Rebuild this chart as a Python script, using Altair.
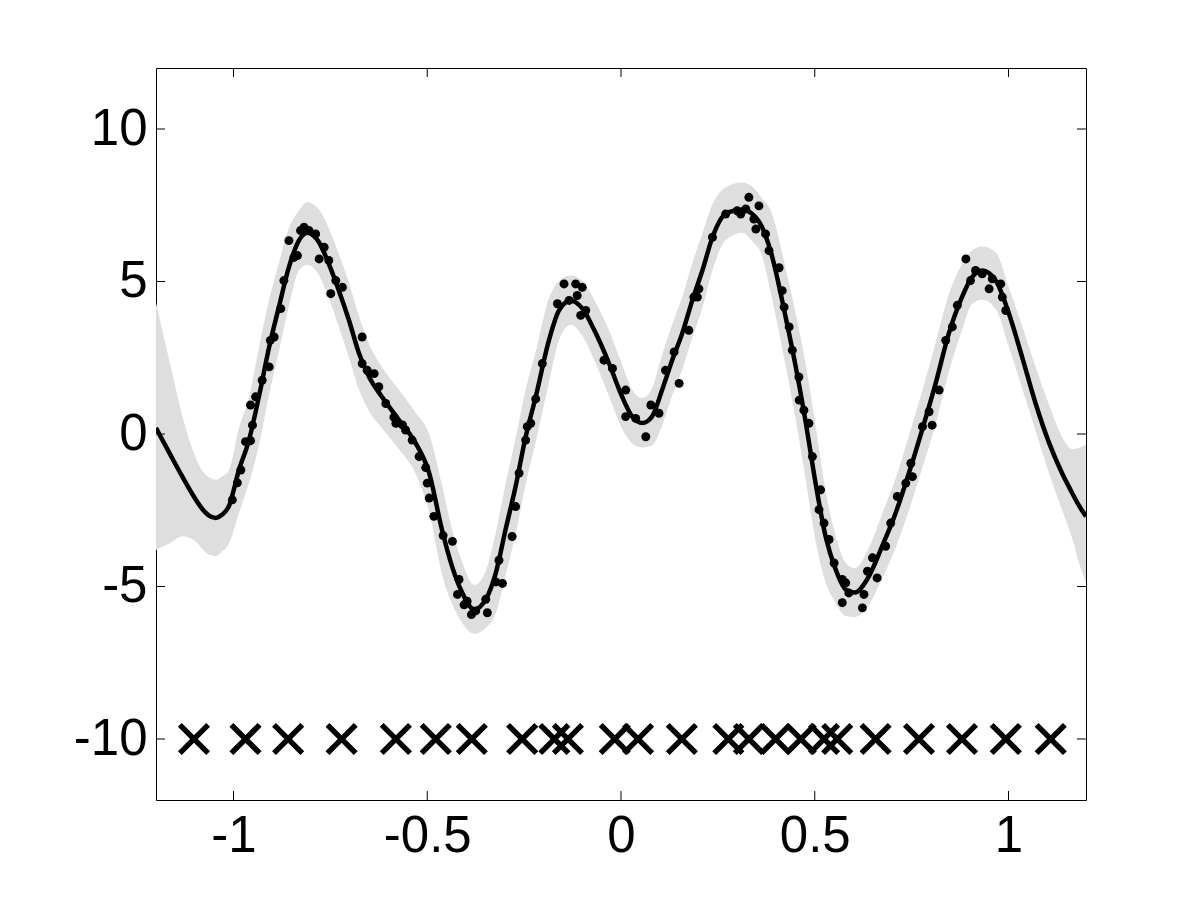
import altair as alt
import pandas as pd

# ---- GP predictive mean and band ----
grid_x = [-1.2, -1.16, -1.132, -1.10, -1.081, -1.065, -1.046, -1.03, -1.012, -0.986, -0.96, -0.934,
          -0.908, -0.883, -0.857, -0.831, -0.81, -0.779, -0.754, -0.728, -0.702, -0.676,
          -0.65, -0.617, -0.573, -0.53, -0.495, -0.462, -0.436, -0.41, -0.379, -0.349,
          -0.323, -0.298, -0.272, -0.246, -0.22, -0.186, -0.16, -0.13, -0.10, -0.065,
          -0.031, 0.003, 0.029, 0.055, 0.08, 0.106, 0.132, 0.158, 0.184, 0.21,
          0.236, 0.27, 0.312, 0.34, 0.364, 0.386, 0.425, 0.451, 0.477, 0.502,
          0.528, 0.554, 0.58, 0.603, 0.64, 0.674, 0.709, 0.743, 0.777, 0.812,
          0.846, 0.88, 0.906, 0.932, 0.967, 1.001, 1.035, 1.07, 1.105, 1.138,
          1.165, 1.182, 1.2]
mean_y = [0.2, -0.75, -1.4, -2.1, -2.45, -2.66, -2.75, -2.65, -2.37, -1.18, -0.2, 1.25,
          2.85, 4.16, 5.47, 6.35, 6.6, 6.28, 5.58, 4.7, 3.73, 2.64,
          1.87, 1.22, 0.46, -0.3, -1.28, -3.14, -4.34, -5.2, -5.75, -5.42,
          -4.55, -3.14, -1.72, -0.09, 1.22, 3.07, 4.05, 4.38, 4.12, 3.3,
          2.32, 1.22, 0.57, 0.36, 0.57, 1.44, 2.42, 3.3, 4.38, 5.36,
          6.45, 7.22, 7.35, 7.2, 6.78, 6.0, 3.83, 2.2, 0.36, -1.6,
          -3.36, -4.44, -5.1, -5.2, -4.66, -3.68, -2.58, -1.28, 0.13, 1.66,
          3.3, 4.49, 5.14, 5.36, 5.03, 3.95, 2.53, 1.0, -0.3, -1.28,
          -1.95, -2.35, -2.7]
band_lo = [-3.8, -3.55, -3.35, -3.5, -3.75, -3.95, -4.0, -3.85, -3.6, -2.6, -1.6, -0.35,
           1.3, 2.7, 4.2, 5.37, 5.55, 5.2, 4.45, 3.5, 2.5, 1.45,
           0.75, 0.2, -0.5, -1.3, -2.55, -4.6, -5.56, -6.2, -6.55, -6.36,
           -5.88, -4.64, -3.29, -1.64, -0.26, 1.69, 3.08, 3.58, 3.22, 2.3,
           1.24, 0.17, -0.31, -0.44, -0.37, 0.28, 1.26, 2.11, 3.16, 4.14,
           5.37, 6.35, 6.6, 6.3, 5.84, 4.66, 2.23, 0.46, -1.54, -3.5,
           -4.86, -5.54, -5.97, -6.0, -5.6, -4.74, -3.72, -2.5, -1.14, 0.33,
           2.03, 3.41, 4.26, 4.4, 4.1, 2.85, 1.5, 0.1, -1.3, -2.48,
           -3.45, -4.22, -4.87]
band_hi = [4.3, 2.1, 0.6, -0.7, -1.2, -1.4, -1.5, -1.4, -1.2, 0.2, 1.2, 2.85,
           4.4, 5.6, 6.75, 7.33, 7.6, 7.35, 6.75, 5.9, 4.95, 3.85,
           2.95, 2.2, 1.45, 0.7, 0.0, -1.68, -3.12, -4.2, -4.95, -4.48,
           -3.22, -1.64, -0.15, 1.46, 2.7, 4.45, 5.02, 5.2, 5.02, 4.3,
           3.4, 2.27, 1.45, 1.18, 1.51, 2.6, 3.58, 4.49, 5.6, 6.58,
           7.53, 8.09, 8.25, 8.1, 7.72, 7.34, 5.43, 3.94, 2.26, 0.3,
           -1.86, -3.34, -4.23, -4.4, -3.72, -2.62, -1.44, -0.06, 1.4, 2.99,
           4.57, 5.57, 6.02, 6.15, 5.96, 4.8, 3.55, 2.2, 0.95, -0.09,
           -0.5, -0.45, -0.35]

# ---- noisy observations ----
obs_x = [-1.003, -0.99, -0.981, -0.969, -0.956, -0.951, -0.956, -0.943, -0.926, -0.908,
         -0.905, -0.895, -0.878, -0.87, -0.857, -0.844, -0.835, -0.827, -0.818, -0.805,
         -0.788, -0.779, -0.766, -0.754, -0.749, -0.736, -0.719, -0.668, -0.668, -0.655,
         -0.637, -0.625, -0.607, -0.586, -0.581, -0.564, -0.556, -0.539, -0.521, -0.504,
         -0.5, -0.495, -0.483, -0.459, -0.435, -0.418, -0.422, -0.405, -0.397, -0.386,
         -0.375, -0.349, -0.345, -0.323, -0.306, -0.315, -0.281, -0.272, -0.263, -0.246,
         -0.242, -0.233, -0.22, -0.203, -0.164, -0.147, -0.134, -0.117, -0.113, -0.1,
         -0.104, -0.091, -0.044, -0.022, 0.012, 0.012, 0.038, 0.064, 0.077, 0.098,
         0.115, 0.137, 0.15, 0.175, 0.188, 0.197, 0.201, 0.236, 0.27, 0.3,
         0.309, 0.33, 0.322, 0.356, 0.343, 0.348, 0.373, 0.382, 0.408, 0.416,
         0.421, 0.434, 0.442, 0.459, 0.46, 0.472, 0.485, 0.494, 0.515, 0.511,
         0.524, 0.537, 0.55, 0.571, 0.571, 0.588, 0.58, 0.627, 0.623, 0.636,
         0.649, 0.661, 0.683, 0.696, 0.713, 0.735, 0.748, 0.752, 0.778, 0.795,
         0.803, 0.821, 0.838, 0.855, 0.868, 0.89, 0.902, 0.915, 0.932, 0.95,
         0.958, 0.98, 0.984, 0.993]
obs_y = [-2.16, -1.6, -1.18, -0.25, -0.22, 0.29, 0.95, 1.22, 1.76, 2.2,
         3.07, 3.18, 4.11, 5.03, 6.34, 5.79, 5.85, 6.67, 6.78, 6.67,
         6.56, 5.74, 6.12, 5.69, 4.6, 5.03, 4.81, 3.18, 2.31, 2.09,
         1.98, 1.55, 1.0, 0.55, 0.35, 0.3, 0.13, -0.2, -0.74, -1.1,
         -1.61, -2.1, -2.7, -3.33, -3.52, -4.77, -5.26, -5.6, -5.48, -5.92,
         -5.8, -5.42, -5.86, -4.85, -4.9, -4.14, -3.36, -2.38, -1.28, -0.2,
         0.24, 0.35, 1.15, 2.31, 4.27, 4.92, 4.38, 4.92, 4.54, 4.81,
         3.89, 4.05, 2.42, 2.15, 1.44, 0.57, 0.51, -0.09, 0.95, 0.68,
         2.09, 2.69, 1.66, 3.4, 4.49, 4.49, 4.76, 6.45, 7.21, 7.32,
         7.21, 7.76, 7.38, 7.48, 7.05, 6.72, 6.56, 6.01, 5.45, 4.7,
         4.16, 3.51, 2.75, 1.87, 1.11, 0.78, 0.35, -0.74, -1.83, -2.48,
         -2.92, -3.46, -4.23, -4.77, -5.53, -5.21, -4.88, -5.26, -5.7, -4.5,
         -4.06, -4.72, -3.68, -2.92, -2.05, -1.61, -0.96, -1.4, 0.24, 0.73,
         0.29, 1.44, 3.07, 3.51, 4.22, 5.74, 5.03, 5.36, 5.25, 4.76,
         5.09, 4.92, 4.49, 4.05]

# ---- inducing point locations (crosses at y = -10) ----
ind_x = [-1.102, -0.969, -0.859, -0.721, -0.581, -0.478, -0.385, -0.255, -0.172, -0.137,
         -0.016, 0.044, 0.157, 0.277, 0.330, 0.399, 0.464, 0.524, 0.558, 0.657,
         0.769, 0.880, 0.993, 1.109]
ind_y = [-10] * len(ind_x)

x_ticks = [-1, -0.5, 0, 0.5, 1]
y_ticks = [-10, -5, 0, 5, 10]

W, H = 930, 732
TICK = 9

xs = alt.Scale(domain=[-1.2, 1.2], nice=False, zero=False)
ys = alt.Scale(domain=[-12, 12], nice=False, zero=False)

font = "Liberation Sans"
x_axis = alt.Axis(values=x_ticks, labelExpr="toString(datum.value)", ticks=False, domain=False,
                  grid=False, title=None, labelFont=font, labelFontSize=51, labelColor="black",
                  labelPadding=11, labelFlush=False)
y_axis = alt.Axis(values=y_ticks, labelExpr="toString(datum.value)", ticks=False, domain=False,
                  grid=False, title=None, labelFont=font, labelFontSize=51, labelColor="black",
                  labelPadding=9)

band_df = pd.DataFrame({"x": grid_x, "lo": band_lo, "hi": band_hi, "m": mean_y})
obs_df = pd.DataFrame({"x": obs_x, "y": obs_y})
ind_df = pd.DataFrame({"x": ind_x, "y": ind_y})
xt_df = pd.DataFrame({"v": x_ticks})
yt_df = pd.DataFrame({"v": y_ticks})

band = alt.Chart(band_df).mark_area(color="#dedede", interpolate="monotone", clip=True).encode(
    x=alt.X("x:Q", scale=xs, axis=x_axis),
    y=alt.Y("lo:Q", scale=ys, axis=y_axis),
    y2="hi:Q",
)
line = alt.Chart(band_df).mark_line(color="black", strokeWidth=4.5, interpolate="monotone", clip=True).encode(
    x=alt.X("x:Q", scale=xs),
    y=alt.Y("m:Q", scale=ys),
)
pts = alt.Chart(obs_df).mark_circle(color="black", size=80, opacity=1).encode(
    x=alt.X("x:Q", scale=xs),
    y=alt.Y("y:Q", scale=ys),
)
crosses = alt.Chart(ind_df).mark_point(
    shape="M-1,-1L1,1M1,-1L-1,1", filled=False, color="black", strokeWidth=5.5, size=800, opacity=1
).encode(
    x=alt.X("x:Q", scale=xs),
    y=alt.Y("y:Q", scale=ys),
)

xt_bottom = alt.Chart(xt_df).mark_rule(color="black", strokeWidth=1).encode(
    x=alt.X("v:Q", scale=xs), y=alt.value(H - TICK), y2=alt.value(H))
xt_top = alt.Chart(xt_df).mark_rule(color="black", strokeWidth=1).encode(
    x=alt.X("v:Q", scale=xs), y=alt.value(0), y2=alt.value(TICK))
yt_left = alt.Chart(yt_df).mark_rule(color="black", strokeWidth=1).encode(
    y=alt.Y("v:Q", scale=ys), x=alt.value(0), x2=alt.value(TICK))
yt_right = alt.Chart(yt_df).mark_rule(color="black", strokeWidth=1).encode(
    y=alt.Y("v:Q", scale=ys), x=alt.value(W - TICK), x2=alt.value(W))

chart = alt.layer(band, line, pts, crosses, xt_bottom, xt_top, yt_left, yt_right).properties(
    width=W, height=H,
    autosize=alt.AutoSizeParams(type="none"),
    padding={"left": 148, "top": 60, "right": 60, "bottom": 90},
    background="white",
).configure_view(stroke="black", strokeWidth=1)

chart.save("out.html", embed_options={"renderer": "svg", "actions": False})
